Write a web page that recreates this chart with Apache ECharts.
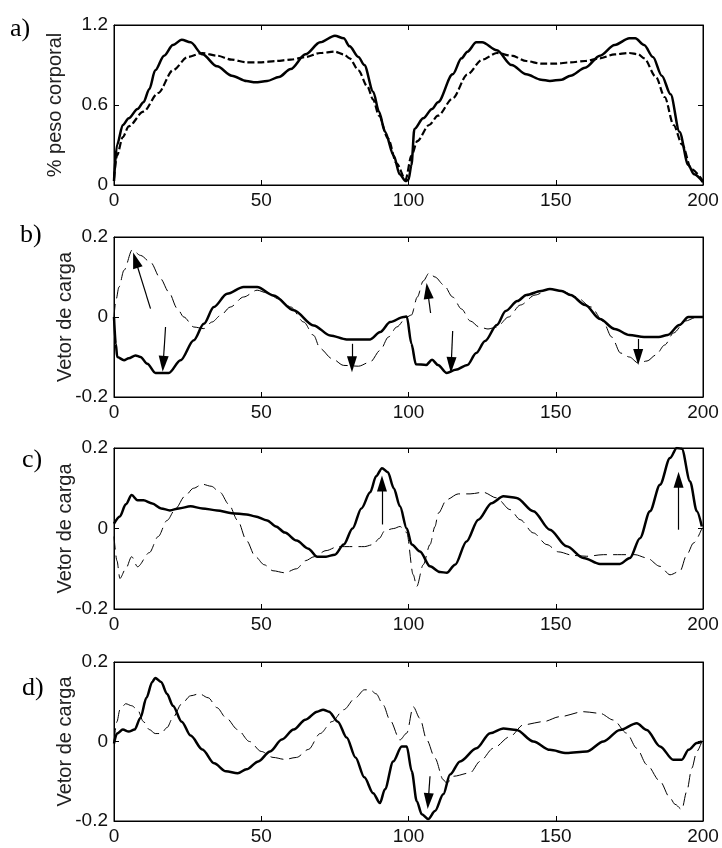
<!DOCTYPE html>
<html>
<head>
<meta charset="utf-8">
<script src="https://cdn.jsdelivr.net/npm/echarts@6/dist/echarts.min.js"></script>
<style>
  html, body { margin: 0; padding: 0; background: #fff; }
  #main { width: 722px; height: 848px; }
</style>
</head>
<body>
<div id="main"></div>
<script>
// x ticks shared by all panels
const xTicks = [0, 50, 100, 150, 200]

// a) % peso corporal
const aSolid = [[0,0.03],[1,0.3],[3,0.45],[5,0.5],[8,0.57],[10,0.62],[12,0.72],[14,0.86],[17,0.97],[20,1.05],[23,1.09],[26,1.07],[30,0.98],[35,0.89],[40,0.82],[45,0.78],[48,0.77],[52,0.78],[56,0.81],[60,0.87],[65,0.98],[70,1.07],[75,1.12],[78,1.1],[80,1.04],[83,0.96],[85,0.9],[88,0.7],[90,0.55],[92,0.4],[95,0.22],[97,0.08],[99,0.03],[100,0.04],[101,0.15],[102,0.42],[105,0.5],[108,0.57],[110,0.62],[115,0.83],[118,0.95],[120,1.0],[123,1.07],[125,1.07],[130,1.01],[135,0.9],[140,0.83],[145,0.79],[148,0.78],[152,0.79],[155,0.82],[160,0.88],[165,0.97],[170,1.05],[175,1.1],[177,1.1],[180,1.05],[183,0.96],[186,0.82],[189,0.68],[192,0.4],[195,0.15],[197,0.08],[200,0.02]]
const aDash = [[0,0.05],[1,0.22],[3,0.36],[5,0.44],[10,0.55],[15,0.69],[20,0.86],[25,0.96],[30,0.99],[35,0.97],[40,0.94],[45,0.92],[50,0.92],[55,0.93],[60,0.94],[65,0.96],[70,0.99],[75,1.0],[78,0.98],[80,0.95],[83,0.86],[86,0.74],[88,0.64],[90,0.52],[93,0.35],[96,0.16],[99,0.04],[101,0.22],[103,0.33],[107,0.45],[110,0.52],[115,0.65],[120,0.83],[125,0.94],[130,0.99],[135,0.97],[140,0.93],[145,0.91],[150,0.91],[155,0.92],[160,0.93],[165,0.95],[170,0.98],[175,0.99],[178,0.98],[180,0.95],[184,0.81],[187,0.66],[190,0.45],[193,0.3],[196,0.12],[200,0.03]]

// b) Vetor de carga
const bSolid = [[0,0],[0.6,-0.067],[1.1,-0.1],[3.4,-0.108],[5,-0.103],[7.3,-0.096],[9,-0.1],[11.3,-0.117],[14.1,-0.14],[18.6,-0.14],[22.6,-0.108],[27.1,-0.058],[30.5,-0.017],[33.9,0.025],[38.4,0.058],[44,0.075],[48.6,0.075],[54.2,0.054],[61,0.017],[67.8,-0.021],[73.4,-0.046],[79,-0.056],[87,-0.056],[90.4,-0.0375],[93.8,-0.0125],[98.3,0],[99.4,0.001],[101,-0.067],[102.5,-0.118],[106,-0.12],[108,-0.107],[110,-0.12],[113,-0.14],[116,-0.132],[120,-0.12],[123,-0.09],[126,-0.06],[130,-0.02],[133,0.015],[137,0.04],[140,0.055],[145,0.065],[148,0.07],[152,0.065],[155,0.055],[160,0.03],[165,-0.005],[170,-0.03],[175,-0.045],[180,-0.05],[185,-0.05],[188,-0.045],[192,-0.02],[195,0],[200,0]]
const bDash = [[0,0],[0.6,0.04],[1.7,0.075],[3.4,0.117],[6.2,0.168],[9,0.154],[12.4,0.137],[15.8,0.096],[18.6,0.0625],[21.5,0.021],[23.7,0],[27.1,-0.025],[30.5,-0.029],[33.3,-0.0125],[36.2,0.004],[39.5,0.025],[44,0.05],[48.6,0.067],[52,0.06],[56,0.045],[60,0.025],[64.4,-0.0125],[67.8,-0.046],[70,-0.079],[74,-0.104],[78,-0.121],[83,-0.123],[87,-0.1125],[90.4,-0.083],[93.2,-0.05],[96,-0.025],[99.4,0],[101,0.005],[103,0.05],[105,0.09],[107,0.11],[109,0.1],[112,0.08],[115,0.05],[118,0.02],[121,-0.01],[124,-0.025],[127,-0.03],[130,-0.025],[134,0],[138,0.03],[143,0.055],[148,0.07],[152,0.065],[157,0.05],[162,0.025],[166,-0.01],[169,-0.05],[172,-0.09],[175,-0.1],[178,-0.115],[181,-0.11],[184,-0.095],[187,-0.07],[190,-0.04],[194,-0.01],[198,0],[200,0]]
const bArrows = [[[12.4,0.021],[7.3,0.142]],[[17.5,-0.025],[16.7,-0.117]],[[80.8,-0.067],[80.8,-0.118]],[[107.5,0.01],[106.5,0.065]],[[115,-0.035],[114.5,-0.12]],[[178,-0.055],[178,-0.1]]]

// c) Vetor de carga
const cSolid = [[0,0.012],[2,0.03],[4,0.06],[6,0.083],[8,0.07],[10,0.07],[13,0.062],[16,0.05],[19,0.045],[22,0.05],[26,0.055],[30,0.05],[35,0.045],[40,0.038],[45,0.035],[48,0.03],[52,0.02],[55,0.005],[58,-0.01],[62,-0.03],[66,-0.05],[69,-0.07],[72,-0.07],[75,-0.065],[78,-0.04],[81,0],[84,0.05],[87,0.09],[89,0.13],[91,0.15],[93,0.14],[95,0.1],[97.1,0.055],[99.4,0],[101.1,-0.04],[103.9,-0.057],[107.3,-0.094],[110.7,-0.108],[113,-0.11],[115.8,-0.09],[119.7,-0.032],[123.7,0.022],[128.2,0.063],[132.2,0.08],[136.7,0.076],[142.4,0.043],[148,-0.003],[153.7,-0.044],[159.4,-0.073],[165,-0.088],[171.8,-0.088],[175.2,-0.073],[178.6,-0.024],[182,0.043],[185.4,0.109],[188.8,0.175],[191.1,0.2],[192.8,0.198],[195.6,0.117],[197.9,0.043],[199.6,0.005]]
const cDash = [[0,-0.02],[1,-0.08],[2,-0.124],[4,-0.1],[6,-0.07],[8,-0.095],[12,-0.06],[15,-0.02],[18,0.02],[21,0.05],[24,0.08],[27,0.1],[30,0.11],[33,0.105],[36,0.09],[39,0.06],[42,0.02],[45,-0.03],[48,-0.07],[51,-0.09],[54,-0.105],[58,-0.11],[62,-0.1],[65,-0.08],[68,-0.07],[72,-0.055],[76,-0.045],[80,-0.045],[85,-0.045],[88,-0.04],[90,-0.025],[92,-0.005],[95,0],[97.1,0.005],[99.4,-0.01],[101.6,-0.115],[102.8,-0.144],[105,-0.09],[107.3,-0.04],[109,0.005],[110.1,0.038],[113,0.072],[116.9,0.086],[120.9,0.086],[125.4,0.09],[129.9,0.076],[134.5,0.047],[137.9,0.022],[142.4,-0.011],[147,-0.04],[150.9,-0.058],[156,-0.067],[160.5,-0.069],[166.2,-0.065],[172.4,-0.065],[176.9,-0.065],[180.9,-0.073],[185.4,-0.094],[188.8,-0.115],[192.2,-0.106],[194.5,-0.065],[196.8,-0.036],[199.6,0]]
const cArrows = [[[91,0.01],[91,0.112]],[[191.7,-0.003],[191.7,0.121]]]

// d) Vetor de carga
const dSolid = [[0,-0.005],[1,0.02],[3,0.03],[5,0.025],[7,0.03],[9,0.06],[11,0.11],[13,0.15],[14,0.16],[16,0.15],[18,0.12],[20,0.09],[23,0.05],[26,0.015],[30,-0.02],[34,-0.055],[38,-0.075],[42,-0.08],[45,-0.07],[49,-0.05],[53,-0.025],[57,0.005],[61,0.03],[65,0.055],[69,0.075],[71,0.08],[73,0.075],[76,0.05],[79,0.01],[82,-0.04],[85,-0.09],[88,-0.13],[90.3,-0.155],[92,-0.12],[94.8,-0.05],[97.7,-0.0125],[99.4,-0.0125],[101.1,-0.075],[102.8,-0.15],[104.5,-0.183],[106.7,-0.195],[109,-0.175],[111.8,-0.133],[114.1,-0.083],[117.5,-0.05],[123.1,-0.017],[127.7,0.021],[132.2,0.033],[136.7,0.029],[142.4,0],[148,-0.021],[153.7,-0.029],[160.5,-0.025],[166.2,0],[171.8,0.029],[177.5,0.046],[180.9,0.029],[185.4,-0.0125],[189.9,-0.046],[192.8,-0.046],[195.1,-0.021],[197.9,-0.004],[199.6,0]]
const dDash = [[0,0],[1,0.05],[2,0.08],[4,0.095],[6,0.09],[8,0.08],[10,0.05],[12,0.03],[14,0.02],[16,0.02],[18,0.035],[20,0.06],[23,0.095],[26,0.115],[29,0.12],[32,0.11],[35,0.085],[38,0.06],[42,0.03],[46,0],[50,-0.025],[54,-0.04],[58,-0.045],[62,-0.04],[66,-0.02],[70,0.02],[74,0.05],[78,0.08],[82,0.11],[85,0.13],[87,0.13],[89,0.12],[91.4,0.092],[93.7,0.054],[97.1,0.004],[99.4,0.021],[101.6,0.0875],[103.9,0.058],[106.2,0.004],[109,-0.042],[111.8,-0.096],[113,-0.105],[115.2,-0.0875],[120.9,-0.079],[124.3,-0.05],[128.8,-0.017],[134.5,0.0125],[139,0.042],[145.8,0.05],[151.4,0.0625],[159.4,0.075],[165,0.071],[169.6,0.054],[174.1,0.021],[177.5,-0.017],[180.9,-0.058],[185.4,-0.1],[188.8,-0.142],[190.5,-0.158],[192.8,-0.171],[194.5,-0.125],[196.2,-0.067],[197.9,-0.025],[199.6,0]]
const dArrows = [[[107.3,-0.0875],[106.7,-0.15]]]

const panelLetters = ['a)', 'b)', 'c)', 'd)']
const yNames = ['% peso corporal', 'Vetor de carga', 'Vetor de carga', 'Vetor de carga']

// layout of the four panels (px)
const panels = [
  { top: 25,  height: 160, min: 0,    max: 1.2, interval: 0.6, nameGap: 49, letter: [10, 31] },
  { top: 237, height: 160, min: -0.2, max: 0.2, interval: 0.2, nameGap: 39, letter: [20, 237] },
  { top: 448, height: 161, min: -0.2, max: 0.2, interval: 0.2, nameGap: 39, letter: [22, 462] },
  { top: 662, height: 159, min: -0.2, max: 0.2, interval: 0.2, nameGap: 39, letter: [22, 690] }
]
const seriesData = [[aSolid, aDash, []], [bSolid, bDash, bArrows], [cSolid, cDash, cArrows], [dSolid, dDash, dArrows]]

const font = 'Liberation Sans, Arial, sans-serif'
const tickStyle = { show: true, inside: true, length: 5, lineStyle: { color: '#000', width: 1 } }
const lineAxis = { show: true, onZero: false, lineStyle: { color: '#000', width: 1 } }

const grid = [], xAxis = [], yAxis = [], series = [], graphic = []

panels.forEach((p, i) => {
  grid.push({ left: 114, width: 589, top: p.top, height: p.height, show: true, borderColor: '#000', borderWidth: 1, outerBoundsMode: 'none' })

  // bottom x axis with labels, top one only for the ticks
  xAxis.push({
    gridIndex: i, type: 'value', min: 0, max: 200, interval: 50,
    axisLine: lineAxis, axisTick: tickStyle, splitLine: { show: false },
    axisLabel: { color: '#111', fontSize: 19, fontFamily: font, margin: 6, showMinLabel: true, showMaxLabel: true }
  })
  xAxis.push({
    gridIndex: i, type: 'value', position: 'top', min: 0, max: 200, interval: 50,
    axisLine: lineAxis, axisTick: tickStyle, splitLine: { show: false }, axisLabel: { show: false }
  })
  yAxis.push({
    gridIndex: i, type: 'value', min: p.min, max: p.max, interval: p.interval,
    name: yNames[i], nameLocation: 'middle', nameGap: p.nameGap, nameMoveOverlap: false,
    nameTextStyle: { color: '#222', fontSize: 20, fontFamily: font },
    axisLine: lineAxis, axisTick: tickStyle, splitLine: { show: false },
    axisLabel: { color: '#111', fontSize: 19, fontFamily: font, margin: 6, showMinLabel: true, showMaxLabel: true }
  })
  yAxis.push({
    gridIndex: i, type: 'value', position: 'right', min: p.min, max: p.max, interval: p.interval,
    axisLine: lineAxis, axisTick: tickStyle, splitLine: { show: false }, axisLabel: { show: false }
  })

  const [solid, dash, arrows] = seriesData[i]
  series.push({
    type: 'line', xAxisIndex: 2 * i, yAxisIndex: 2 * i, data: solid,
    showSymbol: false, smooth: 0.3, smoothMonotone: 'x',
    lineStyle: { color: '#000', width: 2.5 },
    markLine: {
      silent: true, animation: false, symbol: ['none', 'triangle'], symbolSize: [0, 14],
      label: { show: false },
      lineStyle: { color: '#000', width: 1.2, type: 'solid' },
      itemStyle: { color: '#000' },
      emphasis: { disabled: true },
      data: arrows.map(([from, to]) => [
        { coord: from, symbol: 'none' },
        { coord: to, symbol: 'triangle', symbolSize: [10, 16] }
      ])
    }
  })
  series.push({
    type: 'line', xAxisIndex: 2 * i, yAxisIndex: 2 * i, data: dash,
    showSymbol: false, smooth: 0.3, smoothMonotone: 'x',
    lineStyle: i === 0 ? { color: '#000', width: 2.2, type: [7, 3] } : { color: '#000', width: 1, type: [13, 6] }
  })

  graphic.push({
    type: 'text', left: p.letter[0], top: p.letter[1] - 15,
    style: { text: panelLetters[i], fill: '#000', font: '26px "Liberation Serif", "Times New Roman", serif' }
  })
})

const chart = echarts.init(document.getElementById('main'), null, { renderer: 'canvas' })
chart.setOption({
  animation: false,
  backgroundColor: '#fff',
  grid, xAxis, yAxis, series, graphic
})
window.addEventListener('resize', () => chart.resize())
</script>
</body>
</html>
